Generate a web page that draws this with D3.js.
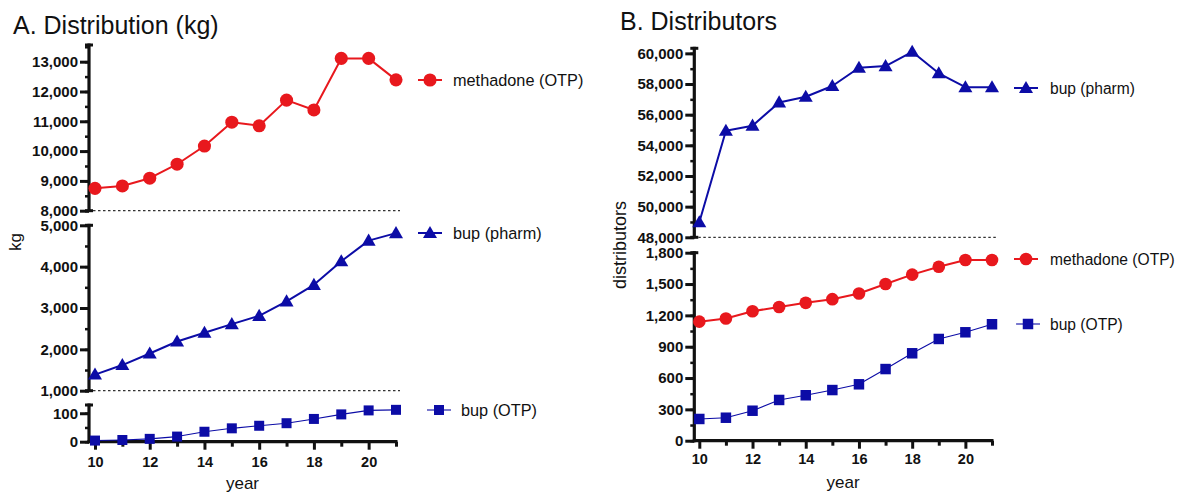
<!DOCTYPE html>
<html>
<head>
<meta charset="utf-8">
<script src="https://cdn.jsdelivr.net/npm/d3@7/dist/d3.min.js"></script>
<style>
  html, body { margin: 0; padding: 0; background: #fff; }
  svg { display: block; }
  text { font-family: "Liberation Sans", Arial, sans-serif; fill: #111; }
</style>
</head>
<body>
<svg id="chart" width="1178" height="493"></svg>
<script>
// ---------------- data ----------------
const years = [10, 11, 12, 13, 14, 15, 16, 17, 18, 19, 20, 21];
const xTickYears = [10, 12, 14, 16, 18, 20];

// Panel A: Distribution (kg)
const aMethadone = [8750, 8830, 9090, 9560, 10170, 10970, 10850, 11710, 11380, 13110, 13110, 12390];
const aBupPharm  = [1390, 1620, 1900, 2190, 2400, 2610, 2810, 3160, 3560, 4130, 4630, 4810];
const aBupOTP    = [4, 6, 10, 18, 35, 47, 56, 65, 80, 96, 110, 112];

// Panel B: Distributors
const bBupPharm  = [48980, 54950, 55280, 56800, 57170, 57870, 59060, 59170, 60100, 58700, 57790, 57790];
const bMethadone = [1140, 1170, 1240, 1280, 1320, 1355, 1410, 1500, 1590, 1665, 1730, 1730];
const bBupOTP    = [208, 220, 287, 390, 435, 485, 540, 686, 837, 974, 1038, 1115];

// Tick values
const aTicksTop = [8000, 9000, 10000, 11000, 12000, 13000];
const aTicksMid = [1000, 2000, 3000, 4000, 5000];
const aTicksBot = [0, 100];
const bTicksTop = [48000, 50000, 52000, 54000, 56000, 58000, 60000];
const bTicksBot = [0, 300, 600, 900, 1200, 1500, 1800];

const seriesNames = ["methadone (OTP)", "bup (pharm)", "bup (OTP)"];

// ---------------- styling ----------------
const RED = "#e8181d";
const BLUE = "#0c0ca6";
const svg = d3.select("#chart");
const fmt = d3.format(",");

function drawPanel(cfg) {
  const g = svg.append("g");
  const x = d3.scaleLinear().domain([10, 21]).range(cfg.xRange);
  const ax = cfg.axisX;

  // y segments
  cfg.segments.forEach(seg => {
    seg.scale = d3.scaleLinear().domain(seg.domain).range(seg.range);
    // minor ticks
    const minor = [];
    for (let v = seg.domain[0]; v <= seg.domain[1] + 1e-9; v += seg.minorStep) minor.push(v);
    g.append("g").attr("transform", `translate(${ax},0)`)
      .call(d3.axisLeft(seg.scale).tickValues(minor).tickSize(4).tickFormat(""))
      .call(s => s.select(".domain").remove())
      .call(s => s.selectAll("line").attr("stroke", "#111").attr("stroke-width", 2.5));
    // major ticks
    g.append("g").attr("transform", `translate(${ax},0)`)
      .call(d3.axisLeft(seg.scale).tickValues(seg.ticks).tickSize(9).tickPadding(2).tickFormat(fmt))
      .call(s => s.select(".domain").remove())
      .call(s => s.selectAll("line").attr("stroke", "#111").attr("stroke-width", 3))
      .call(s => s.selectAll("text").attr("font-size", 15).attr("font-weight", "bold")
        .attr("font-family", "Liberation Sans, Arial, sans-serif").attr("fill", "#111"));
    // axis line
    const yA = seg.range[0], yB = seg.range[1];
    const bottomY = seg.toXAxis ? cfg.xAxisY + 1.5 : yA;
    g.append("line").attr("x1", ax).attr("x2", ax).attr("y1", bottomY).attr("y2", yB - 1.5)
      .attr("stroke", "#111").attr("stroke-width", 3.2);
    // caps
    const capYs = seg.toXAxis ? [yB] : [yA, yB];
    capYs.forEach(cy => {
      g.append("line").attr("x1", ax - 4).attr("x2", ax + 4).attr("y1", cy).attr("y2", cy)
        .attr("stroke", "#111").attr("stroke-width", 3);
    });
    // dashed reference line at segment bottom
    if (seg.dashed) {
      g.append("line").attr("x1", ax + 4).attr("x2", cfg.dashEnd)
        .attr("y1", seg.scale(seg.domain[0])).attr("y2", seg.scale(seg.domain[0]))
        .attr("stroke", "#333").attr("stroke-width", 1.2).attr("stroke-dasharray", "2.5,2.5");
    }
  });

  // x axis
  const xMinor = years.filter(d => d % 2 === 1);
  g.append("g").attr("transform", `translate(0,${cfg.xAxisY})`)
    .call(d3.axisBottom(x).tickValues(xMinor).tickSize(5).tickFormat(""))
    .call(s => s.select(".domain").remove())
    .call(s => s.selectAll("line").attr("stroke", "#111").attr("stroke-width", 3));
  g.append("g").attr("transform", `translate(0,${cfg.xAxisY})`)
    .call(d3.axisBottom(x).tickValues(xTickYears).tickSize(8).tickPadding(cfg.xPad).tickFormat(d3.format("d")))
    .call(s => s.select(".domain").remove())
    .call(s => s.selectAll("line").attr("stroke", "#111").attr("stroke-width", 3))
    .call(s => s.selectAll("text").attr("font-size", 14.5).attr("font-weight", "bold")
      .attr("font-family", "Liberation Sans, Arial, sans-serif").attr("fill", "#111"));
  g.append("line").attr("x1", ax - 1.5).attr("x2", x(21) + 1.5)
    .attr("y1", cfg.xAxisY).attr("y2", cfg.xAxisY)
    .attr("stroke", "#111").attr("stroke-width", 3.2);

  // series
  cfg.series.forEach(s => {
    const seg = cfg.segments[s.seg];
    const pts = years.map((yr, i) => [x(yr), seg.scale(s.values[i])]);
    g.append("path").attr("d", d3.line()(pts)).attr("fill", "none")
      .attr("stroke", s.color).attr("stroke-width", s.lw).attr("stroke-linejoin", "round");
    const sym = d3.symbol().type(s.shape).size(s.size);
    g.selectAll(null).data(pts).enter().append("path")
      .attr("d", sym).attr("transform", d => `translate(${d[0]},${d[1] + (s.shape === d3.symbolTriangle ? 1 : 0)})`)
      .attr("fill", s.color);
    // legend
    const lx = s.legend[0], ly = s.legend[1];
    g.append("line").attr("x1", lx - 12).attr("x2", lx + 12).attr("y1", ly).attr("y2", ly)
      .attr("stroke", s.color).attr("stroke-width", s.lw);
    g.append("path").attr("d", sym)
      .attr("transform", `translate(${lx},${ly + (s.shape === d3.symbolTriangle ? 1 : 0)})`).attr("fill", s.color);
    g.append("text").attr("x", s.legend[2]).attr("y", ly + 6).attr("font-size", cfg.legendSize).text(s.name);
  });

  // titles
  g.append("text").attr("x", cfg.title[1]).attr("y", cfg.title[2]).attr("font-size", 25).text(cfg.title[0]);
  g.append("text").attr("transform", `translate(${cfg.ylab[1]},${cfg.ylab[2]}) rotate(-90)`)
    .attr("text-anchor", "middle").attr("font-size", cfg.ylab[3]).text(cfg.ylab[0]);
  g.append("text").attr("x", (ax + x(21)) / 2).attr("y", cfg.xlabY)
    .attr("text-anchor", "middle").attr("font-size", 17).text("year");
}

drawPanel({
  xRange: [95, 396],
  axisX: 89,
  xAxisY: 441.7,
  xPad: 7,
  xlabY: 489,
  dashEnd: 400,
  legendSize: 16.3,
  title: ["A. Distribution (kg)", 13, 34],
  ylab: ["kg", 21, 242, 17],
  segments: [
    { domain: [8000, 13560], range: [210.7, 45], ticks: aTicksTop, minorStep: 500, dashed: true },
    { domain: [1000, 5000], range: [390.7, 225.3], ticks: aTicksMid, minorStep: 500, dashed: true },
    { domain: [0, 129], range: [441.7, 405], ticks: aTicksBot, minorStep: 50, toXAxis: true }
  ],
  series: [
    { name: seriesNames[0], values: aMethadone, seg: 0, color: RED, lw: 2, shape: d3.symbolCircle, size: 135, legend: [430, 80, 453] },
    { name: seriesNames[1], values: aBupPharm, seg: 1, color: BLUE, lw: 2, shape: d3.symbolTriangle, size: 85, legend: [430, 233, 453] },
    { name: seriesNames[2], values: aBupOTP, seg: 2, color: BLUE, lw: 1.1, shape: d3.symbolSquare, size: 100, legend: [439, 410, 461] }
  ]
});

drawPanel({
  xRange: [699.3, 992],
  axisX: 694.3,
  xAxisY: 440.7,
  xPad: 5,
  xlabY: 488,
  dashEnd: 997,
  legendSize: 15.6,
  title: ["B. Distributors", 620, 30],
  ylab: ["distributors", 626, 245, 18],
  segments: [
    { domain: [48000, 60330], range: [237.3, 48.3], ticks: bTicksTop, minorStep: 1000, dashed: true },
    { domain: [0, 1800], range: [440.7, 252.7], ticks: bTicksBot, minorStep: 150, toXAxis: true }
  ],
  series: [
    { name: seriesNames[1], values: bBupPharm, seg: 0, color: BLUE, lw: 2, shape: d3.symbolTriangle, size: 85, legend: [1026, 88, 1050] },
    { name: seriesNames[0], values: bMethadone, seg: 1, color: RED, lw: 2, shape: d3.symbolCircle, size: 125, legend: [1026, 259, 1050] },
    { name: seriesNames[2], values: bBupOTP, seg: 1, color: BLUE, lw: 1.1, shape: d3.symbolSquare, size: 110, legend: [1028, 324, 1050] }
  ]
});
</script>
</body>
</html>
